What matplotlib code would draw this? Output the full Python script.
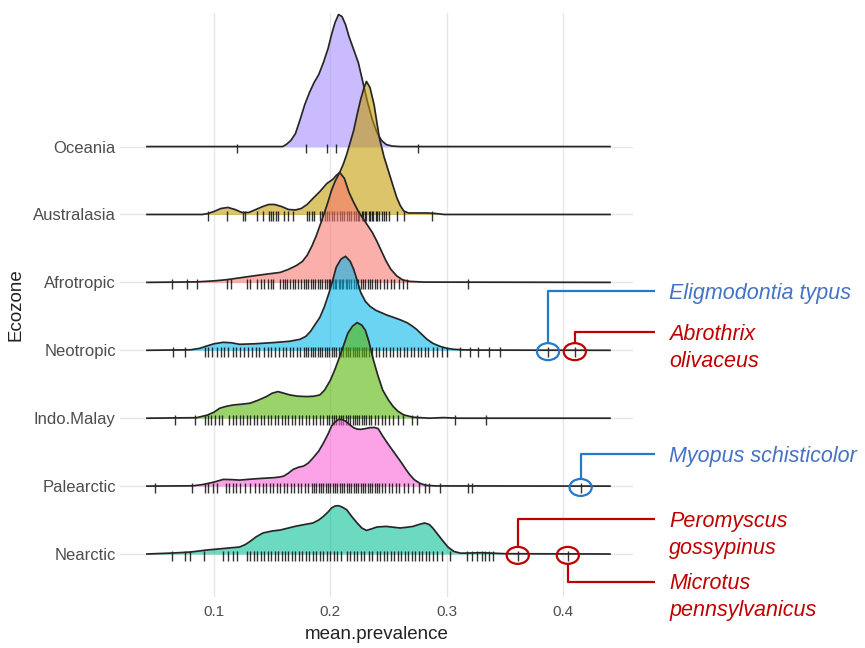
import matplotlib
matplotlib.use("Agg")
import matplotlib.pyplot as plt
import matplotlib.transforms as mtransforms
from matplotlib.patches import Ellipse
import numpy as np

plt.rcParams['font.family'] = ['Liberation Sans', 'DejaVu Sans']

# ridges, bottom to top
ecozones = ["Nearctic", "Palearctic", "Indo.Malay", "Neotropic",
            "Afrotropic", "Australasia", "Oceania"]
zone_colors = ["#00C094", "#FB61D7", "#53B400", "#00B6EB",
               "#F8766D", "#C49A00", "#A58AFF"]

# density curves: (mean.prevalence, relative density)
oceania_density = [
    (0.0424, 0), (0.150, 0), (0.159, 0), (0.162, 2), (0.166, 6), (0.170, 13),
    (0.174, 27), (0.178, 42), (0.182, 54), (0.186, 64), (0.190, 72),
    (0.194, 84), (0.198, 98), (0.201, 112), (0.204, 124), (0.207, 132),
    (0.210, 130), (0.213, 122), (0.216, 110), (0.220, 97), (0.224, 84),
    (0.228, 64), (0.232, 44), (0.236, 27), (0.240, 14), (0.244, 6),
    (0.248, 2), (0.253, 0.5), (0.260, 0), (0.4402, 0)]
australasia_density = [
    (0.0424, 0), (0.090, 0), (0.095, 1), (0.100, 3), (0.106, 6), (0.112, 7),
    (0.118, 5), (0.124, 2), (0.130, 2), (0.136, 5), (0.142, 8), (0.147, 10),
    (0.152, 10), (0.158, 8), (0.164, 5), (0.170, 4.5), (0.175, 6),
    (0.180, 10), (0.185, 16), (0.191, 23), (0.197, 31), (0.202, 35),
    (0.205, 39), (0.208, 42), (0.211, 50), (0.214, 60), (0.217, 72),
    (0.220, 84), (0.223, 100), (0.226, 115), (0.229, 127), (0.231, 133),
    (0.234, 127), (0.2375, 110), (0.242, 77), (0.246, 58), (0.250, 43),
    (0.254, 28), (0.257, 17), (0.260, 9), (0.263, 3.5), (0.267, 1.5),
    (0.275, 1.5), (0.283, 1.5), (0.290, 1), (0.298, 0), (0.4402, 0)]
afrotropic_density = [
    (0.0424, 0), (0.085, 0.5), (0.100, 1.5), (0.111, 2.7), (0.125, 5),
    (0.137, 7), (0.147, 8.5), (0.157, 10), (0.164, 13), (0.171, 17),
    (0.176, 21), (0.180, 27), (0.184, 36), (0.188, 47), (0.192, 60),
    (0.197, 77), (0.201, 92), (0.204, 101), (0.208, 110), (0.212, 104),
    (0.216, 90), (0.220, 80), (0.224, 71), (0.228, 64), (0.232, 57),
    (0.236, 50), (0.240, 41), (0.244, 31), (0.248, 21), (0.252, 13),
    (0.257, 6.5), (0.262, 2.5), (0.268, 1), (0.280, 0.3), (0.4402, 0)]
neotropic_density = [
    (0.0424, 0), (0.080, 0.5), (0.088, 2), (0.093, 4), (0.100, 6.5),
    (0.108, 8), (0.115, 7.5), (0.122, 6), (0.135, 6.5), (0.151, 7.7),
    (0.165, 9), (0.174, 11), (0.179, 14), (0.183, 19), (0.187, 26),
    (0.191, 33), (0.195, 44), (0.199, 58), (0.202, 70), (0.205, 83),
    (0.209, 91), (0.213, 94), (0.217, 89), (0.220, 81), (0.223, 70),
    (0.226, 58), (0.230, 49), (0.234, 44), (0.239, 40), (0.244, 37.5),
    (0.249, 35), (0.254, 33), (0.260, 30.5), (0.266, 27.5), (0.270, 24.5),
    (0.274, 21), (0.278, 16.5), (0.283, 11), (0.288, 7), (0.294, 4),
    (0.300, 2), (0.306, 1), (0.315, 0.4), (0.330, 0.2), (0.4402, 0)]
indomalay_density = [
    (0.0424, 0), (0.085, 0.5), (0.094, 3), (0.100, 6), (0.105, 10),
    (0.111, 12), (0.117, 13.3), (0.124, 14), (0.131, 15), (0.138, 18),
    (0.145, 21.6), (0.150, 25), (0.155, 26.6), (0.160, 25), (0.165, 23.3),
    (0.172, 22), (0.180, 21.6), (0.186, 22), (0.191, 23.3), (0.195, 28),
    (0.200, 38), (0.204, 49), (0.208, 61.6), (0.212, 75), (0.215, 85),
    (0.219, 92), (0.223, 95.6), (0.227, 93), (0.230, 88), (0.233, 77),
    (0.237, 58), (0.241, 42), (0.245, 28), (0.250, 18), (0.254, 11.6),
    (0.258, 7), (0.263, 3.3), (0.271, 1), (0.285, 0), (0.297, 0.6),
    (0.310, 0), (0.4402, 0)]
palearctic_density = [
    (0.0424, 0), (0.082, 0.3), (0.091, 1.7), (0.100, 4), (0.108, 6.7),
    (0.115, 6.5), (0.122, 6), (0.130, 6.8), (0.137, 7.4), (0.145, 8),
    (0.151, 8.4), (0.156, 9), (0.160, 10), (0.164, 13), (0.168, 16.7),
    (0.173, 19), (0.177, 20), (0.181, 23), (0.185, 28), (0.190, 35),
    (0.194, 43), (0.198, 52), (0.201, 60), (0.204, 64), (0.207, 66.7),
    (0.210, 66.5), (0.213, 65), (0.217, 61), (0.220, 58.4), (0.223, 57),
    (0.226, 56.7), (0.230, 57.5), (0.234, 58.4), (0.238, 58.6),
    (0.241, 57.5), (0.245, 50), (0.249, 43), (0.253, 36.5), (0.257, 30),
    (0.261, 23.5), (0.265, 16.5), (0.268, 11.7), (0.272, 6.5), (0.277, 2.7),
    (0.282, 0.8), (0.290, 0.2), (0.4402, 0)]
nearctic_density = [
    (0.0424, 0), (0.065, 1), (0.080, 2), (0.094, 4), (0.108, 5.5),
    (0.122, 7), (0.127, 9.5), (0.131, 12.6), (0.136, 17), (0.142, 21),
    (0.150, 23), (0.157, 24), (0.164, 26), (0.171, 28), (0.178, 29.5),
    (0.185, 31), (0.190, 34), (0.194, 37.6), (0.198, 42), (0.201, 46),
    (0.204, 48), (0.207, 48.3), (0.210, 47), (0.214, 44.3), (0.218, 38),
    (0.223, 31), (0.227, 26), (0.231, 23.6), (0.235, 25), (0.240, 27),
    (0.248, 27.6), (0.254, 26.8), (0.260, 26), (0.266, 26.8), (0.271, 27.6),
    (0.276, 29.5), (0.281, 31), (0.285, 29.5), (0.288, 26), (0.292, 20),
    (0.297, 12.6), (0.301, 7), (0.306, 2.6), (0.312, 0.8), (0.320, 1),
    (0.330, 1.3), (0.340, 0.8), (0.350, 0.3), (0.4402, 0)]

# species mean prevalence (rug marks)
oceania_rug = [0.120, 0.179, 0.197, 0.205, 0.275]
australasia_rug = [
    0.095, 0.111, 0.125, 0.127, 0.137, 0.142, 0.147, 0.149, 0.151, 0.153,
    0.155, 0.160, 0.164, 0.168, 0.180, 0.182, 0.184, 0.186, 0.191, 0.193,
    0.195, 0.197, 0.199, 0.201, 0.203, 0.206, 0.208, 0.210, 0.212, 0.214,
    0.216, 0.218, 0.220, 0.222, 0.224, 0.225, 0.227, 0.228, 0.230, 0.231,
    0.233, 0.234, 0.236, 0.237, 0.239, 0.240, 0.242, 0.244, 0.246, 0.248,
    0.250, 0.257, 0.263, 0.287]
afrotropic_rug = [
    0.064, 0.077, 0.085, 0.111, 0.115, 0.128, 0.131, 0.137, 0.140, 0.143,
    0.146, 0.149, 0.151, 0.157, 0.159, 0.161, 0.163, 0.165, 0.168, 0.170,
    0.172, 0.175, 0.177, 0.179, 0.181, 0.183, 0.185, 0.187, 0.189, 0.191,
    0.193, 0.195, 0.197, 0.199, 0.200, 0.202, 0.204, 0.205, 0.207, 0.208,
    0.210, 0.211, 0.213, 0.214, 0.216, 0.218, 0.220, 0.222, 0.224, 0.226,
    0.228, 0.230, 0.232, 0.234, 0.236, 0.238, 0.240, 0.243, 0.246, 0.249,
    0.252, 0.255, 0.259, 0.262, 0.266, 0.318]
neotropic_rug = [
    0.065, 0.075, 0.092, 0.095, 0.098, 0.103, 0.106, 0.109, 0.112, 0.116,
    0.119, 0.122, 0.126, 0.129, 0.133, 0.136, 0.139, 0.143, 0.146, 0.149,
    0.152, 0.156, 0.159, 0.162, 0.165, 0.168, 0.171, 0.174, 0.177, 0.179,
    0.181, 0.183, 0.185, 0.187, 0.189, 0.191, 0.193, 0.195, 0.197, 0.199,
    0.201, 0.203, 0.205, 0.207, 0.209, 0.211, 0.213, 0.215, 0.217, 0.219,
    0.221, 0.223, 0.225, 0.227, 0.229, 0.231, 0.233, 0.236, 0.239, 0.242,
    0.245, 0.248, 0.251, 0.254, 0.257, 0.260, 0.263, 0.266, 0.269, 0.272,
    0.275, 0.278, 0.281, 0.284, 0.288, 0.292, 0.296, 0.300, 0.311, 0.320,
    0.327, 0.336, 0.346, 0.387, 0.410]
indomalay_rug = [
    0.0665, 0.084, 0.092, 0.095, 0.097, 0.101, 0.104, 0.107, 0.113, 0.116,
    0.119, 0.122, 0.125, 0.128, 0.131, 0.134, 0.137, 0.140, 0.143, 0.146,
    0.149, 0.152, 0.155, 0.158, 0.161, 0.164, 0.167, 0.170, 0.173, 0.176,
    0.179, 0.182, 0.185, 0.188, 0.191, 0.194, 0.197, 0.199, 0.201, 0.203,
    0.205, 0.207, 0.209, 0.211, 0.213, 0.215, 0.217, 0.219, 0.221, 0.223,
    0.225, 0.227, 0.229, 0.231, 0.233, 0.235, 0.238, 0.241, 0.244, 0.247,
    0.250, 0.254, 0.258, 0.262, 0.270, 0.274, 0.307, 0.334]
palearctic_rug = [
    0.049, 0.081, 0.092, 0.095, 0.099, 0.103, 0.110, 0.113, 0.116, 0.119,
    0.122, 0.127, 0.131, 0.135, 0.139, 0.142, 0.145, 0.148, 0.151, 0.154,
    0.157, 0.160, 0.163, 0.166, 0.169, 0.172, 0.175, 0.178, 0.181, 0.184,
    0.186, 0.188, 0.190, 0.192, 0.194, 0.196, 0.198, 0.200, 0.202, 0.204,
    0.206, 0.208, 0.210, 0.212, 0.214, 0.216, 0.218, 0.220, 0.222, 0.224,
    0.226, 0.228, 0.230, 0.232, 0.234, 0.236, 0.238, 0.240, 0.242, 0.244,
    0.247, 0.250, 0.253, 0.256, 0.259, 0.263, 0.267, 0.271, 0.276, 0.281,
    0.285, 0.294, 0.318, 0.322, 0.415]
nearctic_rug = [
    0.064, 0.075, 0.079, 0.091, 0.108, 0.112, 0.116, 0.120, 0.128, 0.131,
    0.134, 0.137, 0.140, 0.143, 0.146, 0.149, 0.152, 0.155, 0.158, 0.161,
    0.164, 0.167, 0.170, 0.173, 0.176, 0.179, 0.182, 0.185, 0.188, 0.191,
    0.194, 0.197, 0.200, 0.203, 0.206, 0.209, 0.214, 0.217, 0.220, 0.223,
    0.226, 0.229, 0.233, 0.236, 0.240, 0.243, 0.246, 0.249, 0.252, 0.255,
    0.258, 0.261, 0.264, 0.267, 0.270, 0.273, 0.276, 0.279, 0.282, 0.285,
    0.288, 0.292, 0.296, 0.303, 0.317, 0.322, 0.326, 0.330, 0.333, 0.336,
    0.340, 0.361, 0.404]

densities = [nearctic_density, palearctic_density, indomalay_density,
             neotropic_density, afrotropic_density, australasia_density,
             oceania_density]
rugs = [nearctic_rug, palearctic_rug, indomalay_rug, neotropic_rug,
        afrotropic_rug, australasia_rug, oceania_rug]

# highlighted outlier species
annot_species = [["Eligmodontia typus"], ["Abrothrix", "olivaceus"],
                 ["Myopus schisticolor"], ["Peromyscus", "gossypinus"],
                 ["Microtus", "pennsylvanicus"]]
annot_zone = ["Neotropic", "Neotropic", "Palearctic", "Nearctic", "Nearctic"]
annot_value = [0.387, 0.410, 0.415, 0.361, 0.404]
annot_kind = ["blue", "red", "blue", "red", "red"]
label_y = [4.873, 4.265, 2.468, 1.511, 0.592]

ridge_scale = 1 / 67.9
line_col = {"blue": "#2479c9", "red": "#c00000"}
text_col = {"blue": "#4472c4", "red": "#c00000"}

fig = plt.figure(figsize=(8.65, 6.48), dpi=100)
ax = fig.add_axes([120 / 865, 1 - 597 / 648, 513 / 865, 584 / 648])

n = len(ecozones)
for i in range(n - 1, -1, -1):
    base = i + 1
    z = 2 + (n - i) * 2
    xs = np.array([p[0] for p in densities[i]])
    hs = np.array([p[1] for p in densities[i]]) * ridge_scale
    ax.fill_between(xs, base, base + hs, color=zone_colors[i], alpha=0.58,
                    lw=0, zorder=z)
    ax.vlines(rugs[i], base - 0.10, base + 0.045, color="black", alpha=0.8,
              lw=1.0, zorder=z + 0.5)
    ax.plot(xs, base + hs, color="#262626", lw=1.25, zorder=z + 1)

for names, zone, val, kind, ly in zip(annot_species, annot_zone, annot_value,
                                      annot_kind, label_y):
    base = ecozones.index(zone) + 1
    ax.add_patch(Ellipse((val, base - 0.02), 0.019, 0.25, fill=False,
                         ec=line_col[kind], lw=1.6, clip_on=False, zorder=30))
    y0 = base + 0.105 if ly > base else base - 0.145
    ax.plot([val, val, 0.4785], [y0, ly, ly], color=line_col[kind], lw=1.6,
            clip_on=False, zorder=30, solid_capstyle="butt")
    for k, name in enumerate(names):
        tr = mtransforms.offset_copy(ax.transData, fig=fig, x=0,
                                     y=-5.6 - 19.4 * k, units="points")
        ax.text(0.491, ly, name, transform=tr, fontsize=15.5,
                style="italic", color=text_col[kind], va="baseline",
                ha="left", clip_on=False)

ax.set_xlim(0.01924, 0.46)
ax.set_ylim(0.367, 8.967)
ax.set_xticks([0.1, 0.2, 0.3, 0.4])
ax.set_xticklabels(["0.1", "0.2", "0.3", "0.4"])
ax.set_yticks(np.arange(1, n + 1))
ax.set_yticklabels(ecozones)
ax.grid(True, color="#e6e6e6", lw=1.0, zorder=0)
ax.set_axisbelow(True)
for s in ax.spines.values():
    s.set_visible(False)
ax.tick_params(axis="y", length=0, pad=3, labelsize=12, labelcolor="#4d4d4d")
ax.tick_params(axis="x", length=0, pad=6, labelsize=11, labelcolor="#4d4d4d")
ax.set_xlabel("mean.prevalence", fontsize=13.5, color="#222222", labelpad=5)
ax.set_ylabel("Ecozone", fontsize=13.5, color="#222222", labelpad=6)

fig.savefig("out.png", dpi=100)
